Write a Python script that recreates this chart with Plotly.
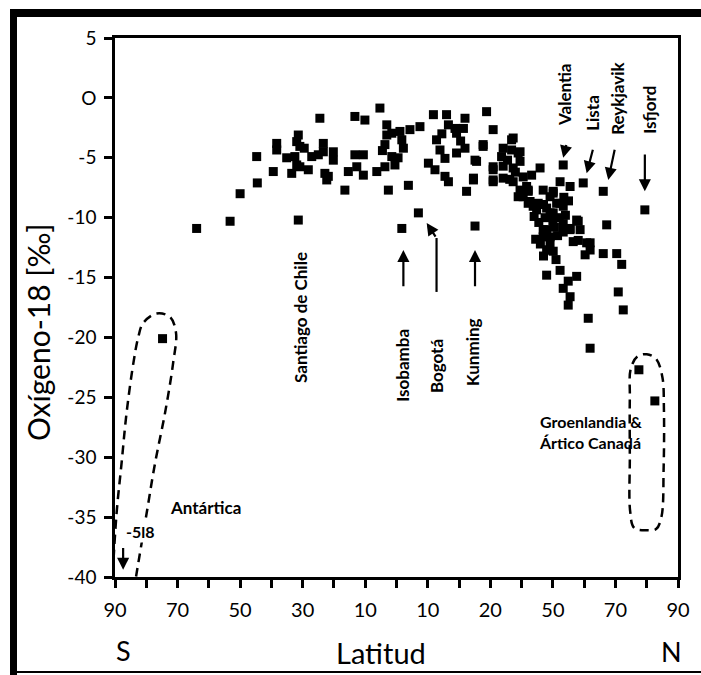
import plotly.graph_objects as go

# ---------------- data ----------------
lat = [
    -74.8,
    -63.9, -53.2, -50.0, -44.5, -44.7, -39.4, -38.3, -38.3, -35.1, -31.4, -31.9, -30.9,
    -32.5, -31.9, -30.9, -28.2, -27.1, -25.0, -24.5, -23.4, -23.4, -22.9, -22.3, -31.4,
    -20.2, -20.2, -21.8, -16.5, -15.4, -13.3, -10.6, -12.7, -10.6, -13.3, -10.1, -5.3,
    -3.1, -3.1, -3.7, -1.5, 1.1, 1.7, 4.3, 7.5, 2.2, -1.5, -0.5, -3.7, -6.3, -2.6, 3.8,
    7.0, 1.7,
    11.8, 16.0, 16.6, 18.7, 21.9, 21.4, 19.2, 12.8, 13.9, 15.5, 10.2, 12.3, 15.5, 16.6,
    19.2, 21.9, 22.4, 25.1,
    28.8, 30.9, 27.7, 25.6, 30.9, 30.9, 24.6, 37.3, 34.1, 33.6, 36.8, 39.5, 39.5, 37.3,
    34.1, 37.3, 39.5, 42.1, 43.2, 45.9, 42.7, 44.8, 48.0, 50.1, 52.3, 53.3, 59.7, 66.1,
    67.2, 79.4,
    41.6, 40.5, 43.7, 50.1, 55.5, 51.2, 53.3, 49.1, 46.9, 49.1, 48.0, 50.1, 53.3, 55.5,
    58.1, 58.1, 60.3, 61.9, 66.1, 70.4, 72.0, 48.0, 52.3, 57.6, 54.9, 53.3, 55.5, 54.9,
    70.9, 72.5, 61.3, 61.9,
    46.9, 49.1, 52.3, 50.1, 48.0, 49.1, 53.3, 57.6, 58.7, 60.8, 61.9, 55.5, 46.9, 48.5,
    36.8, 38.9, 34.1, 36.2, 38.9, 42.1, 42.1, 45.3, 30.9, 30.9, 27.7, 25.1, 24.6,
    44.0, 45.5, 47.5, 50.5, 51.5, 52.0, 54.0, 46.0, 47.0, 51.0, 56.5, 44.5, 38.0, 35.5,
    40.5, 53.5, 55.0, 50.0, 47.0, -29.5, -33.5, -4.5, 0.5, 14.5, 20.5,
    77.5, 82.6,
]
d18o = [
    -20.1,
    -10.9, -10.3, -8.0, -7.1, -4.9, -6.15, -3.8, -4.35, -5.0, -3.1, -3.65, -4.05,
    -4.9, -5.6, -5.75, -6.0, -4.9, -4.75, -1.7, -3.8, -4.5, -6.3, -6.85, -10.2,
    -4.5, -5.2, -6.55, -7.7, -6.15, -4.75, -4.75, -5.75, -6.45, -1.55, -1.85, -0.85,
    -2.25, -3.1, -3.9, -2.95, -2.8, -3.5, -2.65, -2.4, -4.2, -4.9, -5.6, -5.75, -6.15, -7.7, -7.3,
    -9.6, -10.9,
    -1.4, -1.4, -2.25, -2.55, -1.7, -2.55, -2.95, -3.5, -4.35, -5.05, -5.45, -6.0, -6.55, -7.0,
    -4.6, -4.2, -7.8, -10.7,
    -1.15, -2.65, -3.9, -5.3, -5.75, -7.0, -6.7, -3.35, -4.2, -4.9, -4.35, -4.5, -5.3, -5.85,
    -6.7, -7.0, -7.7, -7.8, -6.45, -5.85, -8.65, -9.35, -9.2, -7.8, -7.0, -5.6, -7.1, -7.8,
    -10.6, -9.35,
    -7.4, -8.25, -9.05, -7.95, -7.4, -8.8, -9.05, -9.6, -11.0, -11.6, -12.7, -12.8, -11.2, -10.9,
    -10.3, -11.9, -13.1, -12.1, -13.0, -13.0, -13.9, -14.8, -14.4, -14.9, -15.3, -15.9, -16.6, -17.3,
    -16.2, -17.7, -18.4, -20.9,
    -7.7, -8.25, -8.8, -9.6, -11.0, -12.1, -10.5, -10.2, -11.0, -12.1, -12.7, -11.0, -11.6, -12.7,
    -3.5, -4.6, -5.7, -6.8, -8.25, -7.7, -8.8, -8.8, -6.0, -6.85, -4.05, -5.2, -6.85,
    -9.9, -10.4, -10.0, -10.8, -11.5, -10.0, -9.8, -12.2, -13.2, -13.5, -12.0, -11.8, -6.2, -5.2,
    -6.6, -8.3, -8.6, -10.3, -8.9, -4.2, -6.3, -4.4, -5.0, -3.0, -3.6,
    -22.7, -25.3,
]

x_tickvals = [-90, -80, -70, -60, -50, -40, -30, -20, -10, 0, 10, 20, 30, 40, 50, 60, 70, 80, 90]
x_ticktext = ["90", "", "70", "", "50", "", "30", "", "10", "", "10", "", "20", "", "50", "", "70", "", "90"]
y_tickvals = [5, 0, -5, -10, -15, -20, -25, -30, -35, -40]
y_ticktext = ["5", "O", "-5", "-10", "-15", "-20", "-25", "-30", "-35", "-40"]

# rotated station labels (name, lat, d18O)
vlabels = ["Santiago de Chile", "Isobamba", "Bogotá", "Kunming", "Valentia", "Lista", "Reykjavik", "Isfjord"]
vlabel_lat = [-30.9, 2.0, 12.6, 24.5, 53.9, 62.8, 70.8, 81.0]
vlabel_val = [-18.3, -22.3, -22.4, -21.2, 0.25, -1.25, 0.0, -1.0]

# arrows: (head lat, head val, tail lat, tail val)
arrow_head_lat = [2.2, 9.65, 25.1, 53.3, 60.8, 67.7, 79.4, -87.4]
arrow_head_val = [-12.7, -10.45, -12.7, -5.0, -6.3, -6.85, -7.8, -39.4]
arrow_tail_lat = [2.2, 12.8, 25.1, 54.4, 62.9, 69.85, 79.4, -87.4]
arrow_tail_val = [-15.85, -11.7, -15.85, -3.8, -4.2, -4.2, -4.6, -37.45]
bogota_stem_lat = [12.8, 12.8]
bogota_stem_val = [-16.2, -11.7]

# dashed outlines
antarctic_lat = [-91.0, -89.5, -87.9, -86.3, -84.1, -82.5, -81.0, -76.7, -72.4, -70.5, -71.4, -74.0, -77.2, -79.9, -83.1, -83.9]
antarctic_val = [-41.0, -34.7, -30.5, -26.3, -22.1, -19.9, -18.8, -18.0, -18.3, -19.6, -22.1, -26.3, -30.5, -34.7, -39.7, -41.0]
greenland_lat = [80.0, 76.0, 74.7, 74.6, 74.6, 74.9, 77.0, 80.0, 83.0, 85.0, 85.5, 85.4, 84.7, 83.0, 80.0]
greenland_val = [-36.1, -35.9, -34.5, -30.0, -25.0, -22.6, -21.6, -21.4, -21.8, -23.3, -26.0, -31.0, -35.0, -36.0, -36.1]

FONT = "Lato"
L, R, T, B = 115, 23, 38, 98
W, H = 701, 675
PW, PH = W - L - R, H - T - B


def px(x):
    return (x - L) / PW


def py(y):
    return (H - B - y) / PH


fig = go.Figure()

dash = dict(color="black", width=2.5, dash="9px,6px", shape="spline", smoothing=1.0)
fig.add_trace(go.Scatter(x=antarctic_lat, y=antarctic_val, mode="lines", line=dash,
                         hoverinfo="skip", showlegend=False))
fig.add_trace(go.Scatter(x=greenland_lat, y=greenland_val, mode="lines", line=dash,
                         hoverinfo="skip", showlegend=False))
fig.add_trace(go.Scatter(x=bogota_stem_lat, y=bogota_stem_val, mode="lines",
                         line=dict(color="black", width=2.2), hoverinfo="skip", showlegend=False))

fig.add_trace(go.Scatter(x=lat, y=d18o, mode="markers",
                         marker=dict(symbol="square", size=9, color="black", line=dict(width=0)),
                         showlegend=False))

annotations = []
for name, xa, ya in zip(vlabels, vlabel_lat, vlabel_val):
    annotations.append(dict(x=xa, y=ya, xref="x", yref="y", text="<b>" + name + "</b>",
                            textangle=-90, showarrow=False,
                            font=dict(family=FONT, size=17, color="black")))

for hx, hy, tx, ty in zip(arrow_head_lat, arrow_head_val, arrow_tail_lat, arrow_tail_val):
    annotations.append(dict(x=hx, y=hy, ax=tx, ay=ty, xref="x", yref="y", axref="x", ayref="y",
                            text="", showarrow=True, arrowhead=2, arrowsize=1.1, arrowwidth=2.2,
                            arrowcolor="black"))

center = dict(xanchor="center", yanchor="middle", showarrow=False)
annotations += [
    dict(x=-61.2, y=-34.2, xref="x", yref="y", text="<b>Antártica</b>",
         font=dict(family=FONT, size=17, color="black"), **center),
    dict(x=-81.7, y=-36.2, xref="x", yref="y", text="<b>-5l8</b>",
         font=dict(family=FONT, size=16, color="black"), bgcolor="white", **center),
    dict(x=45.0, y=-27.9, xref="x", yref="y", xanchor="left", yanchor="middle",
         text="<b>Groenlandia &<br>Ártico Canadá</b>", showarrow=False, align="left",
         font=dict(family=FONT, size=16, color="black")),
    dict(x=px(38), y=py(332), xref="paper", yref="paper", text="Oxígeno-18 [‰]",
         textangle=-90, font=dict(family=FONT, size=30, color="black"), **center),
    dict(x=px(123), y=py(650), xref="paper", yref="paper", text="S",
         font=dict(family=FONT, size=27, color="black"), **center),
    dict(x=px(381), y=py(652), xref="paper", yref="paper", text="Latitud",
         font=dict(family=FONT, size=29, color="black"), **center),
    dict(x=px(671), y=py(651), xref="paper", yref="paper", text="N",
         font=dict(family=FONT, size=27, color="black"), **center),
]

shapes = [
    dict(type="rect", xref="paper", yref="paper", x0=px(10), x1=px(17), y0=py(9), y1=py(675),
         fillcolor="black", line=dict(width=0), layer="above"),
    dict(type="rect", xref="paper", yref="paper", x0=px(10), x1=px(701), y0=py(9), y1=py(17),
         fillcolor="black", line=dict(width=0), layer="above"),
    dict(type="rect", xref="paper", yref="paper", x0=px(10), x1=px(701), y0=py(671), y1=py(673),
         fillcolor="black", line=dict(width=0), layer="above"),
]

fig.update_layout(
    width=W, height=H,
    margin=dict(l=L, r=R, t=T, b=B),
    paper_bgcolor="white", plot_bgcolor="white",
    font=dict(family=FONT, color="black"),
    annotations=annotations, shapes=shapes,
    showlegend=False,
)
fig.update_xaxes(range=[-90, 90], tickvals=x_tickvals, ticktext=x_ticktext,
                 ticks="outside", ticklen=8, tickwidth=2.5, tickcolor="black",
                 showline=True, linewidth=2.5, linecolor="black", mirror=True,
                 showgrid=False, zeroline=False, ticklabelstandoff=5,
                 tickfont=dict(family=FONT, size=20, color="black"))
fig.update_yaxes(range=[-40, 5], tickvals=y_tickvals, ticktext=y_ticktext,
                 ticks="outside", ticklen=8, tickwidth=2.5, tickcolor="black",
                 showline=True, linewidth=2.5, linecolor="black", mirror=True,
                 showgrid=False, zeroline=False, ticklabelstandoff=4,
                 tickfont=dict(family=FONT, size=19, color="black"))

fig.write_html("out.html")
